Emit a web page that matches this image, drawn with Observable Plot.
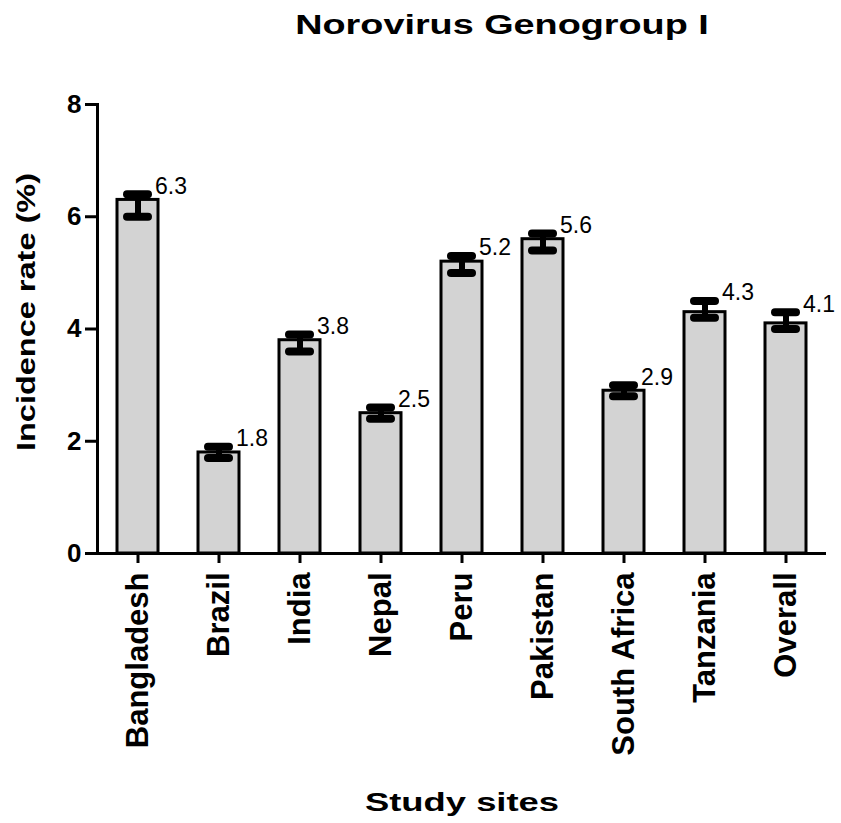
<!DOCTYPE html>
<html><head><meta charset="utf-8">
<script src="https://cdn.jsdelivr.net/npm/d3@7"></script>
<script src="https://cdn.jsdelivr.net/npm/@observablehq/plot@0.6"></script>
<style>body{margin:0;background:#fff} svg{display:block}</style>
</head><body><div id="chart"></div>
<script>
const title = "Norovirus Genogroup I";
const xLabel = "Study sites";
const yLabel = "Incidence rate (%)";
const sites = ["Bangladesh", "Brazil", "India", "Nepal", "Peru", "Pakistan", "South Africa", "Tanzania", "Overall"];
const rates = [6.3, 1.8, 3.8, 2.5, 5.2, 5.6, 2.9, 4.3, 4.1];
const lower = [6.0, 1.7, 3.6, 2.4, 5.0, 5.4, 2.8, 4.2, 4.0];
const upper = [6.4, 1.9, 3.9, 2.6, 5.3, 5.7, 3.0, 4.5, 4.3];
const yTicks = [0, 2, 4, 6, 8];

const data = sites.map((s, i) => ({site: s, rate: rates[i], lo: lower[i], hi: upper[i]}));
const font = "'Liberation Sans', Arial, sans-serif";

const chart = Plot.plot({
  width: 841, height: 823,
  marginLeft: 97, marginRight: 15, marginTop: 104, marginBottom: 270,
  style: {fontFamily: font, background: "white", color: "black", overflow: "visible"},
  x: {domain: sites, paddingInner: 0.49, paddingOuter: 0.245, label: null},
  y: {domain: [0, 8], label: null},
  marks: [
    Plot.barY(data, {x: "site", y: "rate", fill: "#d3d3d3", stroke: "black", strokeWidth: 3}),
    Plot.ruleX(data, {x: "site", y1: "lo", y2: "hi", stroke: "black", strokeWidth: 6}),
    Plot.tickY(data, {x: "site", y: "lo", stroke: "black", strokeWidth: 8, strokeLinecap: "round", insetLeft: 10, insetRight: 10}),
    Plot.tickY(data, {x: "site", y: "hi", stroke: "black", strokeWidth: 8, strokeLinecap: "round", insetLeft: 10, insetRight: 10}),
    Plot.text(data, {x: "site", y: "hi", text: d => d.rate.toFixed(1), dx: 17, dy: -8, textAnchor: "start", fontSize: 23, fill: "black"}),
    Plot.axisY({ticks: yTicks, tickSize: 12, tickPadding: 4, fontSize: 26, fontWeight: "bold", strokeWidth: 3, label: null, tickFormat: d => d}),
    Plot.axisX({tickSize: 10, tickPadding: 9, tickRotate: -90, fontSize: 31, fontWeight: "bold", strokeWidth: 3, label: null}),
    Plot.ruleY([0], {stroke: "black", strokeWidth: 3}),
    Plot.frame({anchor: "left", stroke: "black", strokeWidth: 3}),
    Plot.text([title], {frameAnchor: "top", dx: 40, dy: -71, lineAnchor: "bottom", fontSize: 28, fontWeight: "bold", fill: "black"}),
    Plot.text([xLabel], {frameAnchor: "bottom", dy: 257, lineAnchor: "bottom", fontSize: 26, fontWeight: "bold", fill: "black"}),
    Plot.text([yLabel], {frameAnchor: "left", dx: -71, dy: -17, rotate: -90, textAnchor: "middle", lineAnchor: "middle", fontSize: 25, fontWeight: "bold", fill: "black"})
  ]
});
document.getElementById("chart").appendChild(chart);

function stretch(label, sx) {
  d3.select(chart).selectAll("text").filter(function () { return this.textContent === label; }).each(function () {
    const t = this.getAttribute("transform") || "";
    const x = +this.getAttribute("x") || 0, y = +this.getAttribute("y") || 0;
    if (x || y) {
      this.setAttribute("transform", `${t} translate(${x},${y}) scale(${sx},1)`);
      this.removeAttribute("x"); this.removeAttribute("y");
    } else {
      this.setAttribute("transform", `${t} scale(${sx},1)`);
    }
  });
}
stretch(title, 1.35);
stretch(xLabel, 1.4);
stretch(yLabel, 1.3);
</script>
</body></html>
